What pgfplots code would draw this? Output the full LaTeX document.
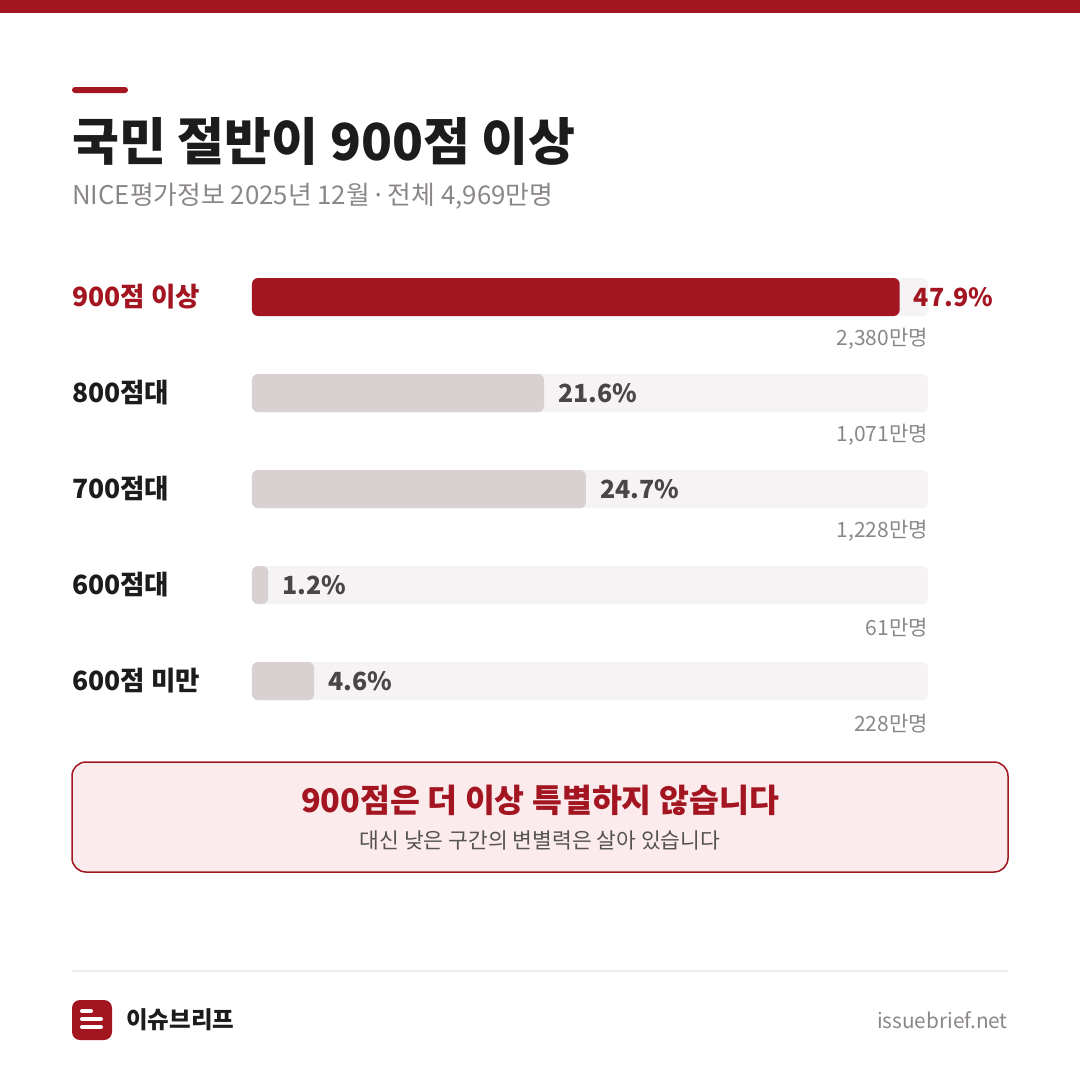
\documentclass[border=0pt]{standalone}
\usepackage{pgfplots}
\pgfplotsset{compat=1.18}
\usepackage{fontspec}
\setmainfont{Noto Sans CJK KR}
\definecolor{brand}{HTML}{A31621}
\definecolor{track}{HTML}{F5F3F3}
\definecolor{barg}{HTML}{D9D1D1}
\definecolor{ink}{HTML}{1C1C1C}
\definecolor{muted}{HTML}{8C8787}
\definecolor{val}{HTML}{4A4646}
\definecolor{subink}{HTML}{555252}
\definecolor{boxfill}{HTML}{FBEBEC}
\definecolor{rulec}{HTML}{EEEEEE}
\begin{document}
\begin{tikzpicture}
\fill[white] (0,0) rectangle (1080pt,-1080pt);
\begin{scope}[x=1pt,y=-1pt]
\fill[brand] (0,0) rectangle (1080,13);
\fill[brand, rounded corners=3pt] (72,87) rectangle (128,93);
\node[anchor=west, inner sep=0pt, font=\fontsize{51}{58}\selectfont\bfseries, text=ink] at (72,141) {국민 절반이 900점 이상};
\node[anchor=west, inner sep=0pt, font=\fontsize{25.8}{30}\selectfont, text=muted] at (72,196) {NICE평가정보 2025년 12월 \makebox[0.25em]{·} 전체 4,969만명};
\draw[brand, line width=1.5pt, fill=boxfill, rounded corners=14pt] (72,762) rectangle (1008,872);
\node[inner sep=0pt, font=\fontsize{32.5}{38}\selectfont\bfseries, text=brand] at (540,800) {900점은 더 이상 특별하지 않습니다};
\node[inner sep=0pt, font=\fontsize{21.5}{25}\selectfont, text=subink] at (540,840) {대신 낮은 구간의 변별력은 살아 있습니다};
\draw[rulec, line width=2pt] (72,971) -- (1008,971);
\fill[brand, rounded corners=8pt] (72,1000) rectangle (112,1040);
\draw[white, line width=4pt, line cap=round] (82,1011) -- (91,1011);
\draw[white, line width=4pt, line cap=round] (82,1019) -- (101,1019);
\draw[white, line width=4pt, line cap=round] (82,1027) -- (101,1027);
\node[anchor=west, inner sep=0pt, font=\fontsize{23.5}{27}\selectfont\bfseries, text=ink] at (126,1020) {이슈브리프};
\node[anchor=east, inner sep=0pt, font=\fontsize{20.8}{24}\selectfont, text=muted] at (1008,1020) {issuebrief.net};
\end{scope}
\begin{axis}[
  at={(252pt,-278pt)}, anchor=north west,
  x=13.52pt, y=96pt, y dir=reverse,
  xmin=0, xmax=50, ymin=-0.19792, ymax=4.5,
  clip=false,
  axis line style={draw=none}, tick style={draw=none},
  major tick length=0pt,
  xtick=\empty,
  ytick={0,1,2,3,4},
  yticklabels={{\color{brand}900점 이상},800점대,700점대,600점대,600점 미만},
  yticklabel style={anchor=west, xshift=-180pt, inner sep=0pt, font=\fontsize{26.5}{31}\selectfont\bfseries, text=ink},
]
\addplot[xbar, bar width=38pt, bar shift=0pt, fill=track, draw=none, rounded corners=6pt]
  coordinates {(50,0) (50,1) (50,2) (50,3) (50,4)};
\addplot[xbar, bar width=38pt, bar shift=0pt, fill=brand, draw=none, rounded corners=6pt,
  point meta=explicit symbolic, nodes near coords,
  every node near coord/.append style={anchor=west, inner sep=0pt, xshift=14pt, font=\fontsize{25}{30}\selectfont\bfseries, text=brand}]
  coordinates {(47.9,0) [47.9\%]};
\addplot[xbar, bar width=38pt, bar shift=0pt, fill=barg, draw=none, rounded corners=6pt,
  point meta=explicit symbolic, nodes near coords,
  every node near coord/.append style={anchor=west, inner sep=0pt, xshift=14pt, font=\fontsize{25}{30}\selectfont\bfseries, text=val}]
  coordinates {(21.6,1) [21.6\%] (24.7,2) [24.7\%] (1.2,3) [1.2\%] (4.6,4) [4.6\%]};
\addplot[draw=none, point meta=explicit symbolic, nodes near coords,
  every node near coord/.append style={anchor=east, inner sep=0pt, font=\fontsize{21}{25}\selectfont, text=muted}]
  coordinates {(50,0.44) [{2,380만명}] (50,1.44) [{1,071만명}] (50,2.44) [{1,228만명}] (50,3.44) [{61만명}] (50,4.44) [{228만명}]};
\end{axis}
\end{tikzpicture}
\end{document}
